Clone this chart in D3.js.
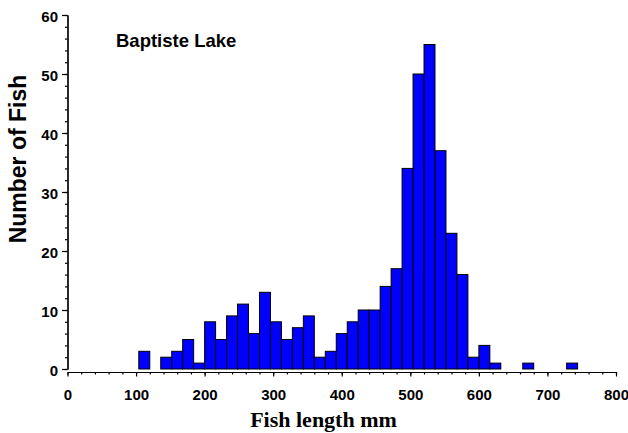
<!DOCTYPE html>
<html>
<head>
<meta charset="utf-8">
<script src="https://cdn.jsdelivr.net/npm/d3@7"></script>
<style>
  html, body { margin: 0; padding: 0; background: #fff; }
  svg { display: block; }
</style>
</head>
<body>
<svg id="chart" width="628" height="433"></svg>
<script>
// Length-frequency histogram: lower edge of each 16 mm bin and its fish count
const binStart = [104, 120, 136, 152, 168, 184, 200, 216, 232, 248,
                  264, 280, 296, 312, 328, 344, 360, 376, 392, 408,
                  424, 440, 456, 472, 488, 504, 520, 536, 552, 568,
                  584, 600, 616, 632, 648, 664, 680, 696, 712, 728];
const fishCount = [3, 0, 2, 3, 5, 1, 8, 5, 9, 11,
                   6, 13, 8, 5, 7, 9, 2, 3, 6, 8,
                   10, 10, 14, 17, 34, 50, 55, 37, 23, 16,
                   2, 4, 1, 0, 0, 1, 0, 0, 0, 1];
const binWidth = 16;

const xMajorTicks = [0, 100, 200, 300, 400, 500, 600, 700, 800];
const yMajorTicks = [0, 10, 20, 30, 40, 50, 60];

const lakeName = "Baptiste Lake";
const xTitle = "Fish length mm";
const yTitle = "Number of Fish";

const svg = d3.select("#chart");

const x = d3.scaleLinear().domain([0, 800]).range([67.5, 616]);
const y = d3.scaleLinear().domain([0, 60]).range([369, 15]);

const sans = "'Liberation Sans', Arial, sans-serif";
const serif = "'Liberation Serif', 'Times New Roman', serif";

const bins = binStart.map((s, i) => ({ x0: s, x1: s + binWidth, n: fishCount[i] }))
  .filter(d => d.n > 0);

// bars
svg.append("g")
  .selectAll("rect")
  .data(bins)
  .join("rect")
  .attr("x", d => x(d.x0))
  .attr("y", d => y(d.n))
  .attr("width", d => x(d.x1) - x(d.x0))
  .attr("height", d => y(0) - y(d.n))
  .attr("fill", "#0000ff")
  .attr("stroke", "#000")
  .attr("stroke-width", 1);

// x axis, set slightly below the zero line
const xAxisY = 372;
const gxMinor = svg.append("g").attr("transform", `translate(0,${xAxisY})`)
  .call(d3.axisBottom(x).tickValues(d3.range(0, 801, 20)).tickSize(2.5).tickSizeOuter(0).tickFormat(""));
const gx = svg.append("g").attr("transform", `translate(0,${xAxisY})`)
  .call(d3.axisBottom(x).tickValues(xMajorTicks).tickSize(4.5).tickSizeOuter(0).tickPadding(13));
[gxMinor, gx].forEach(g => {
  g.selectAll("path, line").attr("stroke", "#000").attr("stroke-width", 1.2);
});
gx.selectAll("text")
  .attr("font-family", sans).attr("font-weight", "bold").attr("font-size", "15px")
  .attr("fill", "#000");

// y axis
const gyMinor = svg.append("g").attr("transform", `translate(${x(0)},0)`)
  .call(d3.axisLeft(y).tickValues(d3.range(0, 61, 2)).tickSize(2.5).tickSizeOuter(0).tickFormat(""));
const gy = svg.append("g").attr("transform", `translate(${x(0)},0)`)
  .call(d3.axisLeft(y).tickValues(yMajorTicks).tickSize(5.5).tickSizeOuter(0).tickPadding(4));
[gyMinor, gy].forEach(g => {
  g.selectAll("path, line").attr("stroke", "#000").attr("stroke-width", 1.2);
});
gy.selectAll("text")
  .attr("font-family", sans).attr("font-weight", "bold").attr("font-size", "15px")
  .attr("fill", "#000").attr("dy", "0.45em");

// titles
svg.append("text")
  .attr("x", 116).attr("y", 46.7)
  .attr("font-family", sans).attr("font-weight", "bold").attr("font-size", "18.5px")
  .text(lakeName);

svg.append("text")
  .attr("x", 323.5).attr("y", 427)
  .attr("text-anchor", "middle")
  .attr("font-family", serif).attr("font-weight", "bold").attr("font-size", "22px")
  .text(xTitle);

svg.append("text")
  .attr("transform", "translate(26,159) rotate(-90)")
  .attr("text-anchor", "middle")
  .attr("font-family", sans).attr("font-weight", "bold").attr("font-size", "23px")
  .text(yTitle);
</script>
</body>
</html>
